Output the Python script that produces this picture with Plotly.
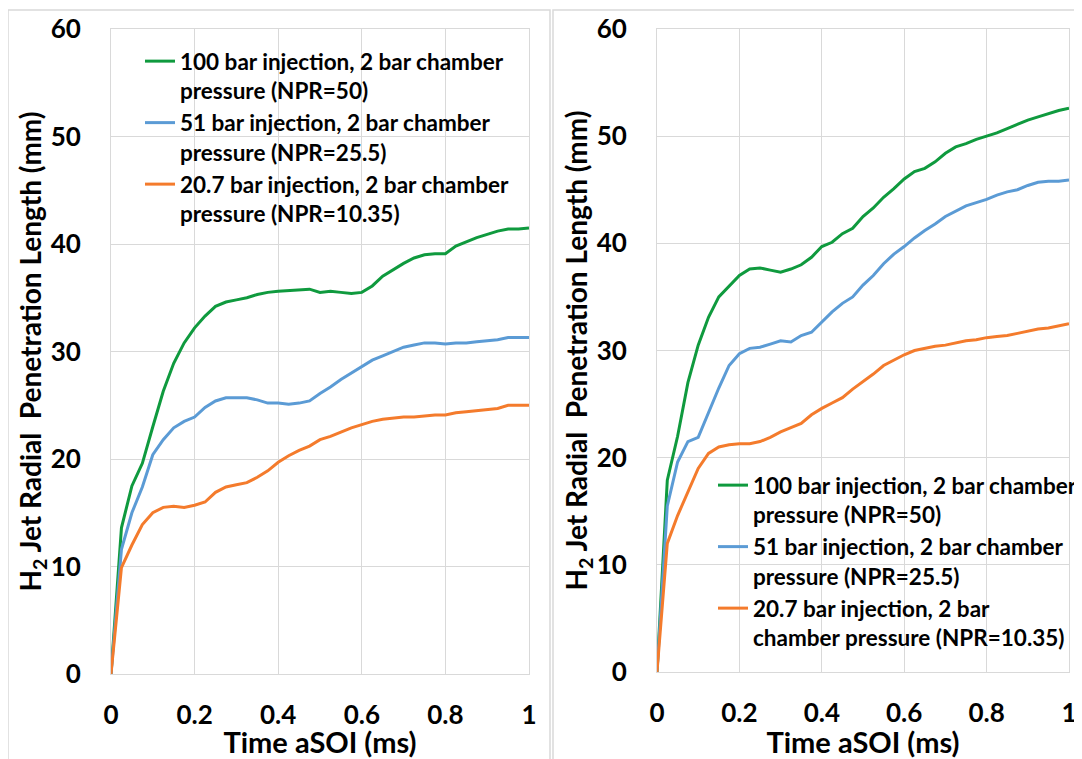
import plotly.graph_objects as go

# ---------------- data ----------------
t = [0, 0.025, 0.05, 0.075, 0.1, 0.125, 0.15, 0.175, 0.2, 0.225, 0.25, 0.275, 0.3,
     0.325, 0.35, 0.375, 0.4, 0.425, 0.45, 0.475, 0.5, 0.525, 0.55, 0.575, 0.6,
     0.625, 0.65, 0.675, 0.7, 0.725, 0.75, 0.775, 0.8, 0.825, 0.85, 0.875, 0.9,
     0.925, 0.95, 0.975, 1.0]

left_100 = [0, 13.6, 17.5, 19.6, 23.0, 26.3, 28.9, 30.8, 32.2, 33.3, 34.2, 34.6, 34.8,
            35.0, 35.3, 35.5, 35.6, 35.65, 35.7, 35.8, 35.5, 35.6, 35.5, 35.4, 35.5,
            36.1, 37.0, 37.6, 38.2, 38.7, 39.0, 39.1, 39.1, 39.8, 40.2, 40.6, 40.9,
            41.2, 41.4, 41.4, 41.5]
left_51 = [0, 11.6, 15.0, 17.4, 20.4, 21.8, 22.9, 23.5, 23.9, 24.8, 25.4, 25.7, 25.7,
           25.7, 25.5, 25.2, 25.2, 25.1, 25.2, 25.4, 26.1, 26.7, 27.4, 28.0, 28.6,
           29.2, 29.6, 30.0, 30.4, 30.6, 30.8, 30.8, 30.7, 30.8, 30.8, 30.9, 31.0,
           31.1, 31.3, 31.3, 31.3]
left_20 = [0, 9.9, 12.0, 13.9, 15.0, 15.5, 15.6, 15.5, 15.7, 16.0, 16.9, 17.4, 17.6,
           17.8, 18.3, 18.9, 19.7, 20.3, 20.8, 21.2, 21.8, 22.1, 22.5, 22.9, 23.2,
           23.5, 23.7, 23.8, 23.9, 23.9, 24.0, 24.1, 24.1, 24.3, 24.4, 24.5, 24.6,
           24.7, 25.0, 25.0, 25.0]

right_100 = [0, 17.9, 22.0, 27.0, 30.5, 33.1, 35.0, 36.0, 37.0, 37.6, 37.7, 37.5, 37.3,
             37.6, 38.0, 38.7, 39.7, 40.1, 40.9, 41.4, 42.5, 43.3, 44.3, 45.1, 46.0,
             46.7, 47.0, 47.6, 48.4, 49.0, 49.3, 49.7, 50.0, 50.3, 50.7, 51.1, 51.5,
             51.8, 52.1, 52.4, 52.6]
right_51 = [0, 15.5, 19.6, 21.5, 21.9, 24.2, 26.5, 28.6, 29.7, 30.2, 30.3, 30.6, 30.9,
            30.8, 31.4, 31.7, 32.7, 33.6, 34.4, 35.0, 36.1, 37.0, 38.1, 39.0, 39.7,
            40.5, 41.2, 41.8, 42.5, 43.0, 43.5, 43.8, 44.1, 44.5, 44.8, 45.0, 45.4,
            45.7, 45.8, 45.8, 45.9]
right_20 = [0, 12.0, 14.6, 16.8, 19.0, 20.4, 21.0, 21.2, 21.3, 21.3, 21.5, 21.9, 22.4,
            22.8, 23.2, 24.0, 24.6, 25.1, 25.6, 26.4, 27.1, 27.8, 28.6, 29.1, 29.6,
            30.0, 30.2, 30.4, 30.5, 30.7, 30.9, 31.0, 31.2, 31.3, 31.4, 31.6, 31.8,
            32.0, 32.1, 32.3, 32.5]

left_names = ["100 bar injection, 2 bar chamber<br>pressure (NPR=50)",
              "51 bar injection, 2 bar chamber<br>pressure (NPR=25.5)",
              "20.7 bar injection, 2 bar chamber<br>pressure (NPR=10.35)"]
right_names = ["100 bar injection, 2 bar chamber<br>pressure (NPR=50)",
               "51 bar injection, 2 bar chamber<br>pressure (NPR=25.5)",
               "20.7 bar injection, 2 bar<br>chamber pressure (NPR=10.35)"]
colors = ["#0f9a3e", "#5b9bd5", "#f47b2c"]

x_title = "Time aSOI (ms)"
y_title = "H<sub>2</sub> Jet Radial&nbsp; Penetration Length (mm)"

# ---------------- figure ----------------
# the page body has an 8px margin, so the figure starts at (8, 8) in the window
OFF = 8
W, H = 1082 - OFF, 759 - OFF
FONT = "Lato"
fig = go.Figure()

for ys, name, c in zip([left_100, left_51, left_20], left_names, colors):
    fig.add_trace(go.Scatter(x=t, y=ys, name=name, mode="lines",
                             line=dict(color=c, width=3),
                             xaxis="x", yaxis="y", legend="legend"))
for ys, name, c in zip([right_100, right_51, right_20], right_names, colors):
    fig.add_trace(go.Scatter(x=t, y=ys, name=name, mode="lines",
                             line=dict(color=c, width=3),
                             xaxis="x2", yaxis="y2", legend="legend2"))

def px_x(p):
    return (p - OFF) / W

def px_y(p):
    return 1 - (p - OFF) / H

grid = "#d9d9d9"
tickfont = dict(family=FONT, size=26, color="black", weight="bold")
xtitlefont = dict(family=FONT, size=29, color="black", weight="bold")
ytitlefont = dict(family=FONT, size=28, color="black", weight="bold")
legfont = dict(family=FONT, size=22.5, color="black", weight="bold")

common_x = dict(range=[0, 1], dtick=0.2, showgrid=True, gridcolor=grid, gridwidth=1,
                showline=True, linecolor=grid, linewidth=1, mirror=True, zeroline=False,
                ticks="outside", ticklen=18, tickcolor="rgba(0,0,0,0)", automargin=False,
                tickfont=tickfont, title=dict(text=x_title, font=xtitlefont, standoff=3))
common_y = dict(range=[0, 60], dtick=10, showgrid=True, gridcolor=grid, gridwidth=1,
                showline=True, linecolor=grid, linewidth=1, mirror=True, zeroline=False,
                ticks="outside", ticklen=24, tickcolor="rgba(0,0,0,0)", automargin=False,
                tickfont=tickfont, title=dict(text=y_title, font=ytitlefont, standoff=0))

fig.update_layout(
    width=W, height=H, margin=dict(l=0, r=0, t=0, b=0, autoexpand=False),
    paper_bgcolor="white", plot_bgcolor="white",
    font=dict(family=FONT, color="black"),
    xaxis=dict(domain=[px_x(111), px_x(529)], anchor="y", **common_x),
    yaxis=dict(domain=[px_y(674), px_y(29)], anchor="x", **common_y),
    xaxis2=dict(domain=[px_x(657), px_x(1069)], anchor="y2", **common_x),
    yaxis2=dict(domain=[px_y(672), px_y(29)], anchor="x2", **common_y),
    legend=dict(x=px_x(140), y=px_y(40), xanchor="left", yanchor="top",
                bgcolor="rgba(0,0,0,0)", valign="top", tracegroupgap=0, font=legfont),
    legend2=dict(x=px_x(713), y=px_y(464), xanchor="left", yanchor="top",
                 bgcolor="rgba(0,0,0,0)", valign="top", tracegroupgap=0, font=legfont),
    shapes=[
        dict(type="rect", xref="paper", yref="paper", x0=px_x(8), x1=px_x(550),
             y0=px_y(H + 40), y1=px_y(10), line=dict(color=grid, width=1.5), layer="below"),
        dict(type="rect", xref="paper", yref="paper", x0=px_x(553), x1=px_x(1082 + 40),
             y0=px_y(H + 40), y1=px_y(10), line=dict(color=grid, width=1.5), layer="below"),
    ],
)

fig.write_html("out.html")
